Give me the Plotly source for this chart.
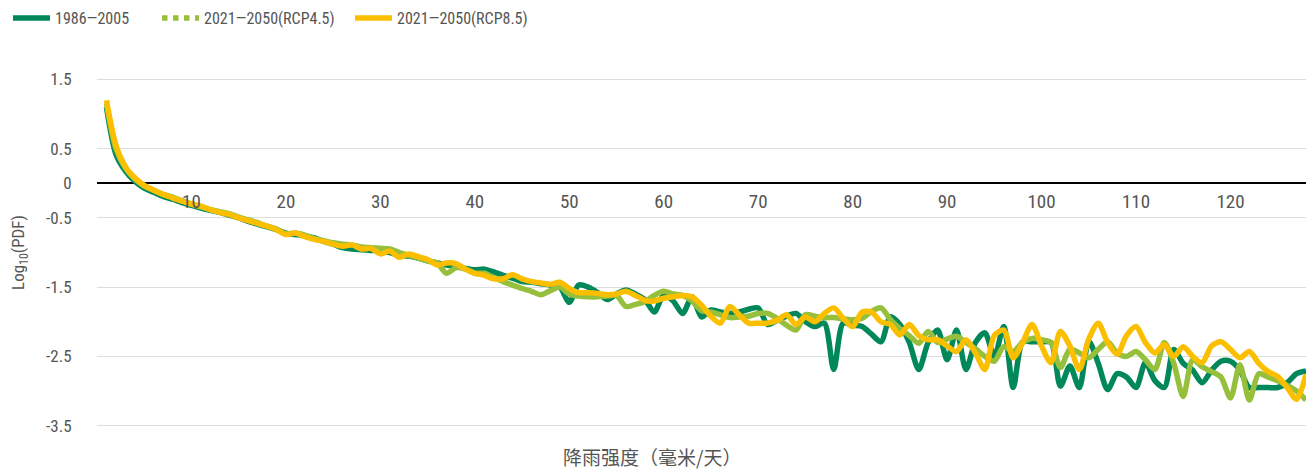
import plotly.graph_objects as go

# ---------------- data ----------------
intensity = list(range(1, 129))  # 降雨强度 (毫米/天)

hist_1986_2005 = [
    1.10, 0.42, 0.18, 0.03, -0.07, -0.13, -0.19, -0.23, -0.28, -0.32,
    -0.36, -0.39, -0.42, -0.46, -0.50, -0.55, -0.59, -0.63, -0.67, -0.72,
    -0.74, -0.76, -0.79, -0.84, -0.88, -0.93, -0.95, -0.96, -0.97, -0.98,
    -1.00, -1.04, -1.05, -1.08, -1.12, -1.15, -1.18, -1.20, -1.23, -1.25,
    -1.24, -1.28, -1.33, -1.37, -1.42, -1.43, -1.45, -1.47, -1.50, -1.72,
    -1.47, -1.50, -1.58, -1.68, -1.60, -1.54, -1.60, -1.68, -1.86, -1.62,
    -1.70, -1.88, -1.64, -1.93, -1.83, -1.86, -1.88, -1.86, -1.82, -1.80,
    -2.04, -1.98, -1.92, -1.88, -2.00, -2.07, -2.02, -2.69, -2.02, -2.05,
    -2.07, -2.18, -2.29, -1.93, -2.04, -2.30, -2.69, -2.30, -2.12, -2.55,
    -2.12, -2.69, -2.30, -2.16, -2.50, -2.07, -2.95, -2.29, -2.29, -2.29,
    -2.30, -2.93, -2.64, -2.95, -2.28, -2.60, -2.98, -2.75, -2.80, -2.95,
    -2.59, -2.85, -2.95, -2.40, -2.60, -2.70, -2.88, -2.70, -2.57, -2.57,
    -2.70, -2.95, -2.95, -2.95, -2.95, -2.88, -2.75, -2.71,
]

rcp45_2021_2050 = [
    1.15, 0.50, 0.22, 0.06, -0.04, -0.10, -0.16, -0.20, -0.25, -0.30,
    -0.34, -0.38, -0.41, -0.44, -0.49, -0.53, -0.57, -0.62, -0.66, -0.73,
    -0.72, -0.75, -0.80, -0.83, -0.86, -0.88, -0.89, -0.92, -0.93, -0.94,
    -0.95, -1.00, -1.04, -1.08, -1.12, -1.15, -1.30, -1.22, -1.24, -1.30,
    -1.30, -1.36, -1.42, -1.47, -1.52, -1.56, -1.61, -1.55, -1.50, -1.60,
    -1.63, -1.64, -1.64, -1.63, -1.62, -1.78, -1.75, -1.71, -1.62, -1.56,
    -1.60, -1.62, -1.70, -1.84, -1.86, -1.90, -1.94, -1.93, -1.92, -1.88,
    -1.88, -1.95, -2.05, -2.12, -1.90, -1.92, -1.94, -1.94, -1.96, -1.97,
    -1.95, -1.85, -1.80, -1.97, -2.10, -2.20, -2.31, -2.14, -2.30, -2.25,
    -2.21, -2.30, -2.39, -2.50, -2.57, -2.36, -2.43, -2.30, -2.24, -2.26,
    -2.30, -2.66, -2.40, -2.45, -2.52, -2.40, -2.29, -2.45, -2.50, -2.43,
    -2.55, -2.69, -2.30, -2.60, -3.08, -2.55, -2.65, -2.72, -2.80, -3.10,
    -2.62, -3.13, -2.75, -2.80, -2.85, -2.92, -3.00, -3.13,
]

rcp85_2021_2050 = [
    1.20, 0.55, 0.24, 0.08, -0.03, -0.10, -0.16, -0.21, -0.26, -0.30,
    -0.33, -0.38, -0.42, -0.45, -0.50, -0.54, -0.58, -0.62, -0.67, -0.74,
    -0.72, -0.77, -0.81, -0.84, -0.88, -0.91, -0.89, -0.95, -0.94, -1.02,
    -0.98, -1.07, -1.02, -1.06, -1.10, -1.18, -1.15, -1.16, -1.24, -1.30,
    -1.33, -1.38, -1.38, -1.32, -1.38, -1.42, -1.44, -1.46, -1.43, -1.52,
    -1.58, -1.58, -1.59, -1.61, -1.60, -1.56, -1.62, -1.69, -1.70, -1.66,
    -1.64, -1.62, -1.64, -1.76, -1.92, -2.02, -1.78, -1.90, -2.02, -2.02,
    -2.02, -1.98, -1.90, -2.04, -1.93, -2.00, -1.88, -1.80, -1.95, -2.07,
    -1.86, -1.86, -2.00, -2.04, -2.19, -2.04, -2.20, -2.26, -2.26, -2.35,
    -2.43, -2.26, -2.45, -2.69, -2.20, -2.12, -2.52, -2.30, -2.04, -2.35,
    -2.59, -2.14, -2.35, -2.69, -2.25, -2.02, -2.30, -2.47, -2.20, -2.07,
    -2.30, -2.45, -2.33, -2.50, -2.36, -2.50, -2.59, -2.35, -2.29, -2.40,
    -2.52, -2.43, -2.60, -2.72, -2.79, -2.95, -3.12, -2.76,
]

series_names = ["1986—2005", "2021—2050(RCP4.5)", "2021—2050(RCP8.5)"]
x_ticks = [10, 20, 30, 40, 50, 60, 70, 80, 90, 100, 110, 120]
y_ticks = [1.5, 0.5, 0, -0.5, -1.5, -2.5, -3.5]
y_ticktext = ["1.5", "0.5", "0", "-0.5", "-1.5", "-2.5", "-3.5"]

# ---------------- style ----------------
C_DARK = "#00875A"
C_LIGHT = "#96C03C"
C_YELLOW = "#FBBF00"
TXT = "#555555"
NUM_FONT = "Roboto Condensed, Liberation Sans Narrow, Arial Narrow, Roboto, sans-serif"
LW = 5.5

# the page body adds an 8px offset; the figure is sized to fill the window
OFF = 8
W, H = 1314 - OFF, 470 - OFF
M_L, M_R, M_T, M_B = 97 - OFF, 8, 78 - OFF, 43

fig = go.Figure()

fig.add_trace(go.Scatter(
    x=intensity, y=hist_1986_2005, mode="lines", name=series_names[0],
    line=dict(color=C_DARK, width=LW, shape="spline", smoothing=0.8),
    legend="legend", hoverinfo="skip"))

fig.add_trace(go.Scatter(
    x=intensity, y=rcp45_2021_2050, mode="lines", name=series_names[1],
    line=dict(color=C_LIGHT, width=LW, shape="spline", smoothing=0.8),
    showlegend=False, hoverinfo="skip"))
# legend entry (dotted) for RCP4.5
fig.add_trace(go.Scatter(
    x=[None], y=[None], mode="lines", name=series_names[1],
    line=dict(color=C_LIGHT, width=LW, dash="dot"),
    legend="legend2", hoverinfo="skip"))

fig.add_trace(go.Scatter(
    x=intensity, y=rcp85_2021_2050, mode="lines", name=series_names[2],
    line=dict(color=C_YELLOW, width=LW, shape="spline", smoothing=0.8),
    legend="legend3", hoverinfo="skip"))

y_lo, y_hi = -3.52, 1.52
x_axis_pos = (0 - y_lo) / (y_hi - y_lo)

legend_common = dict(
    orientation="h", xref="container", yref="container",
    y=1 - (18 - OFF) / H, yanchor="middle", xanchor="left",
    font=dict(family=NUM_FONT, size=16, color=TXT),
    itemwidth=37, bgcolor="rgba(0,0,0,0)",
)

fig.update_layout(
    width=W, height=H,
    margin=dict(l=M_L, r=M_R, t=M_T, b=M_B, autoexpand=False),
    plot_bgcolor="white", paper_bgcolor="white",
    showlegend=True,
    legend=dict(x=0, **legend_common),
    legend2=dict(x=(157 - OFF) / W, **legend_common),
    legend3=dict(x=(350 - OFF) / W, **legend_common),
    xaxis=dict(
        range=[0, 128], tickvals=x_ticks, showgrid=False, zeroline=False,
        showline=False, anchor="free", position=x_axis_pos,
        ticks="outside", ticklen=1, tickcolor="rgba(0,0,0,0)",
        tickfont=dict(family=NUM_FONT, size=19, color=TXT),
    ),
    yaxis=dict(
        range=[y_lo, y_hi], tickvals=y_ticks, ticktext=y_ticktext,
        showgrid=True, gridcolor="#DDDDDD", gridwidth=1,
        zeroline=True, zerolinecolor="#000000", zerolinewidth=1.5,
        showline=False, ticks="outside", ticklen=21,
        tickcolor="rgba(0,0,0,0)",
        tickfont=dict(family=NUM_FONT, size=17, color=TXT),
        title=dict(text="Log<sub>10</sub>(PDF)", standoff=18,
                   font=dict(family=NUM_FONT, size=17, color=TXT)),
    ),
    annotations=[dict(
        text="降雨强度（毫米/天）", xref="paper", yref="paper",
        x=(652 - OFF - M_L) / (W - M_L - M_R),
        y=-(456 - OFF - (H - M_B)) / (H - M_T - M_B),
        xanchor="center", yanchor="middle", showarrow=False,
        font=dict(family="Noto Sans CJK SC, sans-serif", size=19, color=TXT),
    )],
)

fig.write_html("out.html")
